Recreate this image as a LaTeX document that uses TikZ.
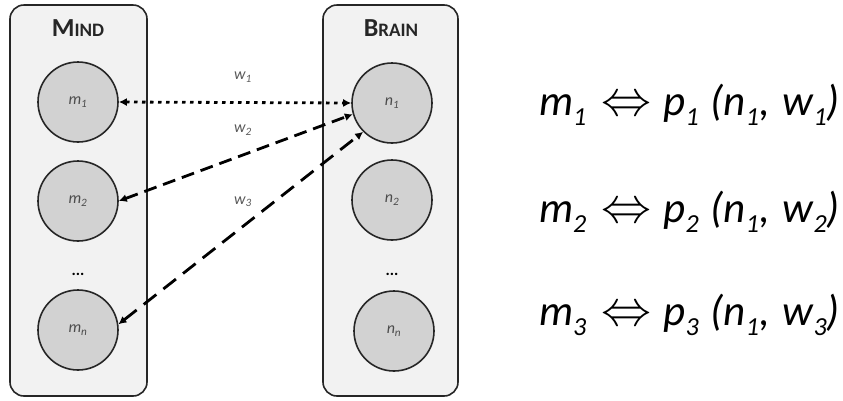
\RequirePackage{fix-cm}
\documentclass[tikz,border=0pt]{standalone}
\usepackage{fontspec}
\setmainfont{Carlito}
\usetikzlibrary{arrows.meta,positioning}
\newcommand\sub[1]{\raisebox{-10pt}{\fontsize{26}{26}\selectfont #1}}
\newcommand\dblarrow{\hspace{0.35em}{\upshape\fontsize{50}{50}\selectfont$\Leftrightarrow$}\hspace{0.28em}}

\begin{document}
\begin{tikzpicture}[x=1pt,y=-1pt,
  box/.style={draw=black!85,line width=1.6pt,fill=gray!10,rounded corners=14pt},
  unit/.style={circle,draw=black!85,line width=1.6pt,fill=gray!35,minimum size=80pt,
    inner sep=0pt,font=\fontsize{16}{16}\selectfont\itshape,text=black!70},
  link/.style={line width=2.8pt,{Latex[length=8pt,width=8pt]}-{Latex[length=8pt,width=8pt]}},
  wlabel/.style={font=\fontsize{16}{16}\selectfont\itshape,text=black!65},
  title/.style={font=\bfseries,text=black!85},
  eq/.style={font=\fontsize{43}{43}\selectfont\itshape,anchor=base west,inner sep=0pt}]
  \useasboundingbox (0,0) rectangle (843,400);

  % the two columns
  \draw[box] (10,5) rectangle (147,396);
  \draw[box] (323,5) rectangle (458,396);
  \node[title] (mindtitle)  at (78,28)  {\fontsize{26}{26}\selectfont M\fontsize{19}{19}\selectfont IND};
  \node[title] (braintitle) at (391,28) {\fontsize{26}{26}\selectfont B\fontsize{19}{19}\selectfont RAIN};

  % mind states
  \node[unit] (m1) at (78,102) {m\textsubscript{1}};
  \node[unit] (m2) at (78,201) {m\textsubscript{2}};
  \node[unit] (mn) at (78,330) {m\textsubscript{n}};
  % brain states
  \node[unit] (n1) at (392,103) {n\textsubscript{1}};
  \node[unit] (n2) at (392,200) {n\textsubscript{2}};
  \node[unit] (nn) at (394,331) {n\textsubscript{n}};

  % the dots between
  \node[font=\fontsize{16}{16}\selectfont\bfseries] (mdots) at (78,274) {...};
  \node[font=\fontsize{16}{16}\selectfont\bfseries] (ndots) at (392,274) {...};

  % links, weighted
  \draw[link,dash pattern=on 3.5pt off 4.5pt] (m1.east) -- (n1.west);
  \draw[link,dash pattern=on 13pt off 7pt] (m2.east) -- (n1.196);
  \draw[link,dash pattern=on 16pt off 9pt] (mn.8) -- (n1.225);
  \node[wlabel] (w1) at (243,77)  {w\textsubscript{1}};
  \node[wlabel] (w2) at (243,130) {w\textsubscript{2}};
  \node[wlabel] (w3) at (243,202) {w\textsubscript{3}};

  % the correspondences
  \node[eq] (eq1) at (539,115) {m\sub{1}\dblarrow p\sub{1}\hspace{0.28em}(n\sub{1},\hspace{0.3em}w\sub{1})};
  \node[eq] (eq2) at (539,222) {m\sub{2}\dblarrow p\sub{2}\hspace{0.28em}(n\sub{1},\hspace{0.3em}w\sub{2})};
  \node[eq] (eq3) at (539,325) {m\sub{3}\dblarrow p\sub{3}\hspace{0.28em}(n\sub{1},\hspace{0.3em}w\sub{3})};
\end{tikzpicture}
\end{document}
